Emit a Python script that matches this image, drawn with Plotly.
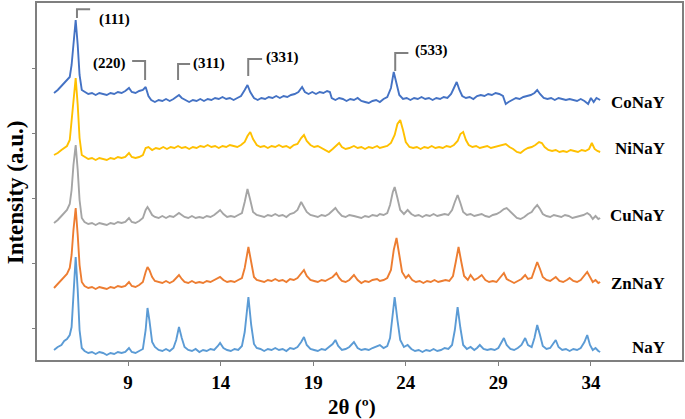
import plotly.graph_objects as go

# ---------------- data (2θ in degrees, intensity in a.u., stacked) ----------------
sample_names = ["NaY", "ZnNaY", "CuNaY", "NiNaY", "CoNaY"]
x_ticks = [9, 14, 19, 24, 29, 34]

nay = [(5.0,10),(5.2,13),(5.4,15),(5.55,19),(5.7,21),(5.85,25),(5.95,33),(6.05,60),(6.17,103),(6.28,70),(6.38,30),(6.5,12),(6.65,9),(6.85,7),(7.05,8),(7.25,6),(7.45,8),(7.65,7),(7.85,5),(8.05,7),(8.25,6),(8.45,8),(8.65,7),(8.85,8),(9.05,12),(9.2,8),(9.4,7),(9.6,9),(9.8,11),(9.95,30),(10.05,52),(10.15,40),(10.3,18),(10.45,13),(10.65,10),(10.85,9),(11.05,11),(11.25,9),(11.45,12),(11.6,20),(11.75,33),(11.9,22),(12.05,13),(12.25,10),(12.45,9),(12.65,11),(12.85,8),(13.05,10),(13.25,9),(13.45,11),(13.65,10),(13.85,14),(13.97,17),(14.15,12),(14.35,10),(14.55,9),(14.75,11),(14.95,10),(15.15,14),(15.3,28),(15.5,63),(15.65,35),(15.8,16),(15.95,12),(16.15,11),(16.35,9),(16.55,11),(16.75,10),(16.95,12),(17.15,10),(17.35,11),(17.55,9),(17.75,12),(17.95,11),(18.15,13),(18.35,18),(18.5,23),(18.65,15),(18.85,11),(19.05,10),(19.25,9),(19.45,11),(19.65,10),(19.85,13),(20.05,16),(20.2,20),(20.35,14),(20.55,10),(20.75,11),(20.95,13),(21.2,18),(21.4,12),(21.6,10),(21.8,11),(22.0,10),(22.2,12),(22.45,14),(22.6,15),(22.8,12),(23.0,14),(23.15,22),(23.3,45),(23.4,63),(23.55,40),(23.7,20),(23.9,13),(24.1,15),(24.3,11),(24.5,9),(24.7,10),(24.9,8),(25.1,10),(25.3,9),(25.5,11),(25.7,9),(25.9,10),(26.1,12),(26.3,11),(26.5,15),(26.65,30),(26.8,53),(26.95,32),(27.1,15),(27.3,11),(27.5,13),(27.7,10),(27.85,12),(28.0,15),(28.2,11),(28.4,10),(28.6,11),(28.8,10),(29.0,12),(29.15,17),(29.3,22),(29.45,15),(29.65,11),(29.85,10),(30.05,12),(30.25,15),(30.45,22),(30.6,15),(30.8,13),(30.95,22),(31.1,35),(31.25,25),(31.4,14),(31.6,11),(31.8,12),(31.95,16),(32.1,20),(32.25,13),(32.45,10),(32.65,11),(32.85,9),(33.05,11),(33.25,10),(33.45,12),(33.65,18),(33.8,25),(33.95,15),(34.1,10),(34.25,12),(34.4,9),(34.5,8)]

znnay = [(5.0,72),(5.2,76),(5.4,80),(5.55,83),(5.7,86),(5.85,92),(5.95,105),(6.05,130),(6.17,152),(6.28,125),(6.38,95),(6.5,78),(6.65,74),(6.85,72),(7.05,73),(7.25,71),(7.45,73),(7.65,72),(7.85,71),(8.05,73),(8.25,72),(8.45,74),(8.65,73),(8.85,74),(9.05,78),(9.2,74),(9.4,73),(9.6,75),(9.8,78),(9.95,88),(10.05,93),(10.15,90),(10.3,83),(10.45,79),(10.65,78),(10.85,77),(11.05,79),(11.25,77),(11.45,79),(11.6,82),(11.75,85),(11.9,81),(12.05,78),(12.25,77),(12.45,79),(12.65,77),(12.85,78),(13.05,77),(13.25,79),(13.45,78),(13.65,80),(13.85,82),(13.97,83),(14.15,80),(14.35,78),(14.55,79),(14.75,78),(14.95,80),(15.15,82),(15.3,92),(15.5,113),(15.65,98),(15.8,83),(15.95,80),(16.15,79),(16.35,78),(16.55,80),(16.75,79),(16.95,81),(17.15,79),(17.35,80),(17.55,78),(17.75,81),(17.95,80),(18.15,82),(18.35,86),(18.5,90),(18.65,84),(18.85,80),(19.05,79),(19.25,78),(19.45,80),(19.65,79),(19.85,81),(20.05,83),(20.25,87),(20.4,82),(20.55,79),(20.75,78),(20.95,80),(21.2,85),(21.4,80),(21.6,77),(21.8,79),(22.0,78),(22.2,80),(22.45,81),(22.6,79),(22.8,80),(23.0,82),(23.2,90),(23.35,110),(23.5,122),(23.65,105),(23.8,88),(24.0,82),(24.15,85),(24.35,80),(24.55,78),(24.75,79),(24.95,77),(25.15,79),(25.35,78),(25.55,80),(25.75,78),(25.95,79),(26.15,80),(26.35,79),(26.55,84),(26.7,98),(26.85,113),(27.0,98),(27.15,84),(27.35,80),(27.5,85),(27.7,80),(27.9,82),(28.1,85),(28.3,80),(28.5,78),(28.7,79),(28.9,78),(29.1,82),(29.3,87),(29.45,81),(29.65,79),(29.85,77),(30.05,79),(30.25,81),(30.45,85),(30.6,81),(30.8,82),(30.95,90),(31.1,98),(31.25,91),(31.4,83),(31.6,80),(31.8,79),(31.95,81),(32.1,83),(32.3,79),(32.5,78),(32.7,80),(32.85,82),(33.05,79),(33.25,78),(33.45,80),(33.6,83),(33.8,88),(33.95,83),(34.1,78),(34.25,80),(34.4,77),(34.5,78)]

cunay = [(5.0,137),(5.2,140),(5.4,144),(5.55,147),(5.7,150),(5.85,156),(5.95,170),(6.05,195),(6.17,215),(6.28,190),(6.38,160),(6.5,142),(6.65,138),(6.85,136),(7.05,137),(7.25,135),(7.45,137),(7.65,136),(7.85,135),(8.05,137),(8.25,136),(8.45,138),(8.65,137),(8.85,138),(9.05,142),(9.2,138),(9.4,137),(9.6,139),(9.8,142),(9.95,150),(10.05,153),(10.15,150),(10.3,145),(10.45,143),(10.65,142),(10.85,144),(11.05,142),(11.25,144),(11.45,143),(11.6,145),(11.75,147),(11.9,145),(12.05,143),(12.25,142),(12.45,144),(12.65,142),(12.85,143),(13.05,142),(13.25,144),(13.45,143),(13.65,145),(13.85,148),(13.97,150),(14.15,146),(14.35,143),(14.55,144),(14.75,143),(14.95,145),(15.15,147),(15.3,158),(15.45,171),(15.6,160),(15.75,148),(15.95,145),(16.15,144),(16.35,143),(16.55,145),(16.75,144),(16.95,146),(17.15,144),(17.35,145),(17.55,143),(17.75,146),(17.95,147),(18.15,150),(18.35,158),(18.5,153),(18.65,148),(18.85,145),(19.05,144),(19.25,143),(19.45,145),(19.65,144),(19.85,146),(20.05,149),(20.2,152),(20.35,148),(20.55,144),(20.75,143),(20.95,145),(21.2,144),(21.4,143),(21.6,142),(21.8,144),(22.0,143),(22.2,145),(22.45,144),(22.6,146),(22.8,145),(23.0,147),(23.15,155),(23.3,168),(23.4,173),(23.55,162),(23.7,150),(23.9,146),(24.1,150),(24.3,146),(24.5,144),(24.7,145),(24.9,143),(25.1,145),(25.3,144),(25.5,146),(25.7,144),(25.9,145),(26.1,146),(26.3,145),(26.5,150),(26.65,158),(26.8,165),(26.95,157),(27.1,148),(27.3,145),(27.5,146),(27.7,144),(27.9,145),(28.1,146),(28.3,144),(28.5,143),(28.7,145),(28.9,146),(29.1,148),(29.3,151),(29.45,152),(29.6,149),(29.8,145),(30.0,142),(30.2,141),(30.4,143),(30.6,146),(30.8,148),(30.95,152),(31.1,155),(31.25,151),(31.4,146),(31.6,144),(31.8,143),(32.0,145),(32.2,144),(32.4,143),(32.6,145),(32.8,144),(33.0,142),(33.2,143),(33.4,144),(33.6,145),(33.8,147),(33.95,145),(34.1,141),(34.25,144),(34.4,141),(34.5,142)]

ninay = [(5.0,205),(5.2,207),(5.4,210),(5.55,212),(5.7,214),(5.85,220),(5.95,240),(6.05,265),(6.17,282),(6.28,255),(6.38,222),(6.5,205),(6.65,203),(6.85,201),(7.05,202),(7.25,200),(7.45,202),(7.65,201),(7.85,200),(8.05,202),(8.25,201),(8.45,203),(8.65,202),(8.85,203),(9.05,207),(9.2,203),(9.4,202),(9.6,203),(9.8,205),(9.95,212),(10.1,213),(10.3,210),(10.5,212),(10.7,211),(10.9,213),(11.1,211),(11.3,213),(11.5,212),(11.7,214),(11.9,212),(12.1,213),(12.3,211),(12.5,213),(12.7,212),(12.9,214),(13.1,213),(13.3,215),(13.5,213),(13.7,214),(13.9,212),(14.1,214),(14.3,213),(14.5,215),(14.7,214),(14.9,213),(15.1,215),(15.3,218),(15.45,224),(15.6,228),(15.75,221),(15.95,215),(16.15,213),(16.35,214),(16.55,212),(16.75,214),(16.95,213),(17.15,215),(17.35,213),(17.55,214),(17.75,212),(17.95,215),(18.15,216),(18.35,222),(18.5,225),(18.65,219),(18.85,215),(19.05,213),(19.25,214),(19.45,212),(19.65,210),(19.85,208),(20.05,211),(20.25,215),(20.4,217),(20.55,213),(20.75,211),(20.95,212),(21.2,214),(21.4,212),(21.6,213),(21.8,211),(22.0,213),(22.2,212),(22.45,214),(22.6,212),(22.8,213),(23.0,214),(23.2,217),(23.4,225),(23.55,236),(23.7,240),(23.85,230),(24.0,218),(24.2,213),(24.4,212),(24.6,213),(24.8,211),(25.0,213),(25.2,212),(25.4,214),(25.6,212),(25.8,213),(26.0,212),(26.2,214),(26.4,213),(26.6,215),(26.8,219),(26.95,226),(27.1,228),(27.25,220),(27.4,215),(27.6,213),(27.8,214),(28.0,212),(28.2,213),(28.4,214),(28.6,212),(28.8,213),(29.0,214),(29.2,215),(29.4,216),(29.6,213),(29.8,211),(30.0,208),(30.2,207),(30.4,210),(30.6,212),(30.8,213),(31.0,215),(31.2,218),(31.35,217),(31.5,213),(31.7,210),(31.9,209),(32.1,210),(32.3,208),(32.5,209),(32.7,208),(32.9,210),(33.1,209),(33.3,208),(33.5,210),(33.7,209),(33.9,211),(34.05,217),(34.2,211),(34.35,209),(34.5,208)]

conay = [(5.0,267),(5.2,270),(5.4,274),(5.55,277),(5.7,279),(5.85,283),(5.95,295),(6.05,320),(6.17,340),(6.28,315),(6.38,285),(6.5,270),(6.65,268),(6.85,266),(7.05,267),(7.25,265),(7.45,267),(7.65,266),(7.85,265),(8.05,267),(8.25,266),(8.45,268),(8.65,267),(8.85,269),(9.05,272),(9.2,268),(9.4,267),(9.6,269),(9.8,270),(9.95,273),(10.1,264),(10.25,260),(10.45,258),(10.65,260),(10.85,259),(11.05,261),(11.25,259),(11.45,261),(11.6,263),(11.75,265),(11.9,262),(12.1,260),(12.3,258),(12.5,260),(12.7,259),(12.9,261),(13.1,259),(13.3,261),(13.5,260),(13.7,262),(13.9,261),(14.1,263),(14.3,261),(14.5,262),(14.7,260),(14.9,262),(15.1,264),(15.3,270),(15.45,275),(15.6,268),(15.8,262),(16.0,260),(16.2,262),(16.4,261),(16.6,263),(16.8,262),(17.0,264),(17.2,262),(17.4,264),(17.6,263),(17.8,265),(18.0,266),(18.2,268),(18.4,273),(18.55,268),(18.75,266),(18.95,268),(19.15,266),(19.35,268),(19.55,267),(19.75,269),(19.9,268),(20.0,262),(20.2,260),(20.4,262),(20.6,261),(20.8,259),(21.0,261),(21.2,260),(21.4,262),(21.6,259),(21.8,258),(22.0,257),(22.2,259),(22.4,260),(22.6,258),(22.8,261),(23.0,263),(23.2,272),(23.35,288),(23.5,275),(23.65,265),(23.85,261),(24.05,262),(24.25,260),(24.45,262),(24.65,261),(24.85,263),(25.05,261),(25.25,262),(25.45,260),(25.65,262),(25.85,261),(26.05,263),(26.25,262),(26.45,266),(26.6,272),(26.75,278),(26.9,270),(27.05,264),(27.25,262),(27.45,263),(27.65,261),(27.85,264),(28.05,265),(28.25,264),(28.45,266),(28.65,265),(28.85,267),(29.05,266),(29.25,264),(29.4,256),(29.55,258),(29.75,260),(29.95,262),(30.15,261),(30.35,263),(30.55,264),(30.75,265),(30.95,267),(31.1,270),(31.25,266),(31.45,262),(31.65,261),(31.85,262),(32.05,260),(32.25,262),(32.45,261),(32.65,260),(32.85,261),(33.05,260),(33.25,259),(33.45,261),(33.65,259),(33.85,256),(34.0,262),(34.15,258),(34.3,262),(34.5,260)]

# Miller indices marked on the CoNaY pattern: label, peak 2θ
hkl_labels = ["(111)", "(220)", "(311)", "(331)", "(533)"]
hkl_theta = [6.24, 9.92, 11.70, 15.49, 23.43]

# ---------------- styling ----------------
colors = {"NaY": "#5B9BD5", "ZnNaY": "#ED7D31", "CuNaY": "#A5A5A5",
          "NiNaY": "#FFC000", "CoNaY": "#4472C4"}
patterns = {"NaY": nay, "ZnNaY": znnay, "CuNaY": cunay, "NiNaY": ninay, "CoNaY": conay}
FONT = "Liberation Serif"
AXIS_GRAY = "#7f7f7f"

fig = go.Figure()
for name in sample_names:
    pts = patterns[name]
    fig.add_trace(go.Scatter(x=[p[0] for p in pts], y=[p[1] for p in pts], mode="lines",
                             line=dict(color=colors[name], width=1.9), name=name,
                             showlegend=False))

annotations = []
# sample labels on the right (y at each pattern's baseline end)
label_y = {"NaY": 13, "ZnNaY": 77, "CuNaY": 145, "NiNaY": 212, "CoNaY": 258}
for name in sample_names:
    annotations.append(dict(x=38.1, y=label_y[name], xref="x", yref="y", text=f"<b>{name}</b>",
                            showarrow=False, xanchor="right", yanchor="middle",
                            font=dict(family=FONT, size=17, color="black")))

# bracket geometry for hkl labels: (bracket top y, bracket bottom y, horiz. length, text x, text anchor, text y)
bracket = {
    "(111)": (350.7, 342, +0.71, 7.32, "left", 340.5),
    "(220)": (299, 280, -0.70, 9.02, "right", 297),
    "(311)": (296, 280, +0.65, 12.38, "left", 297),
    "(331)": (301, 284, +0.75, 16.35, "left", 303),
    "(533)": (307, 289, +0.71, 24.38, "left", 310),
}
shapes = []
for lab, th in zip(hkl_labels, hkl_theta):
    top, bot, dx, tx, anc, ty = bracket[lab]
    shapes.append(dict(type="path", xref="x", yref="y",
                       path=f"M {th + dx} {top} L {th} {top} L {th} {bot}",
                       line=dict(color="#808080", width=2)))
    annotations.append(dict(x=tx, y=ty, xref="x", yref="y", text=f"<b>{lab}</b>",
                            showarrow=False, xanchor=anc, yanchor="middle",
                            font=dict(family=FONT, size=15, color="black")))

# axis titles
annotations.append(dict(x=0.488, y=-0.132, xref="paper", yref="paper", text="<b>2θ (º)</b>",
                        showarrow=False, xanchor="center", yanchor="middle",
                        font=dict(family=FONT, size=21, color="black")))
annotations.append(dict(x=-0.034, y=0.47, xref="paper", yref="paper", text="<b>Intensity (a.u.)</b>",
                        showarrow=False, xanchor="center", yanchor="middle", textangle=-90,
                        font=dict(family=FONT, size=23, color="black")))

fig.update_layout(
    width=685, height=419,
    margin=dict(l=37, r=3, t=3, b=59, autoexpand=False),
    plot_bgcolor="white", paper_bgcolor="white",
    shapes=shapes, annotations=annotations,
    xaxis=dict(range=[4.081, 38.92], tickvals=x_ticks, ticks="outside", ticklen=4,
               tickcolor=AXIS_GRAY, showline=True, linecolor=AXIS_GRAY, linewidth=1.5,
               mirror=True, showgrid=False, zeroline=False, automargin=False,
               tickfont=dict(family=FONT, size=19, color="black", weight="bold")),
    yaxis=dict(range=[0, 357], tickvals=[32, 97, 162, 227, 292], showticklabels=False,
               ticks="outside", ticklen=3, tickcolor=AXIS_GRAY, showline=True, automargin=False,
               linecolor=AXIS_GRAY, linewidth=1.5, mirror=True, showgrid=False, zeroline=False),
)

fig.write_html("out.html", config={"displayModeBar": False},
               post_script="document.body.style.margin='0';")
